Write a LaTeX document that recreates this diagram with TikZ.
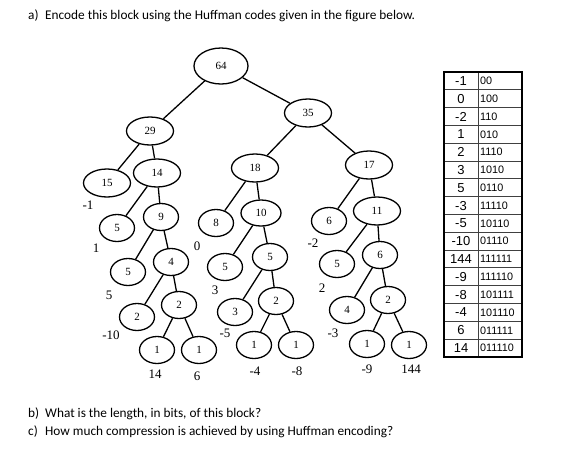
\documentclass[tikz,border=0pt]{standalone}
\usepackage{fontspec}
\setmainfont{Liberation Serif}
\newfontfamily\calib{Carlito}
\newfontfamily\arialf{Liberation Sans}
\usetikzlibrary{shapes.geometric}
\begin{document}
\begin{tikzpicture}[x=1pt,y=-1pt,
  tn/.style={ellipse,draw,line width=1.3pt,inner sep=0pt,minimum width=35pt,minimum height=27pt,font=\fontsize{11}{11}\selectfont},
  mid/.style={tn,minimum width=47pt,minimum height=28pt},
  lbl/.style={inner sep=0pt,font=\fontsize{13}{13}\selectfont},
  tedge/.style={line width=1.3pt},
  txt/.style={anchor=base west,inner sep=0pt,font=\calib\fontsize{13.3}{15}\selectfont},
  lc/.style={inner sep=0pt,font=\arialf\fontsize{13}{13}\selectfont},
  rc/.style={anchor=west,inner sep=0pt,font=\arialf\fontsize{10.8}{10.8}\selectfont}]
\useasboundingbox (0,0) rectangle (565,453);

% texts
\node[txt] (ta) at (28,19) {\makebox[17pt][l]{a)}Encode this block using the Huffman codes given in the figure below.};
\node[txt] (tb) at (28,417) {\makebox[17pt][l]{b)}What is the length, in bits, of this block?};
\node[txt] (tc) at (28,435) {\makebox[17pt][l]{c)}How much compression is achieved by using Huffman encoding?};

% tree nodes
\node[tn,minimum width=54pt,minimum height=36pt] (n64) at (221,66) {64};
\node[mid] (n29) at (150,131) {29};
\node[mid] (n35) at (308,113) {35};
\node[mid] (n15) at (107,183) {15};
\node[mid] (n14) at (157,173) {14};
\node[mid] (n18) at (255,168) {18};
\node[mid] (n17) at (369,165) {17};
\node[tn] (n5a) at (117,228) {5};
\node[tn] (n9) at (161,217) {9};
\node[tn] (n8) at (216,223) {8};
\node[mid,minimum width=40pt,minimum height=26pt] (n10) at (261,213) {10};
\node[tn] (n6a) at (329,221) {6};
\node[mid] (n11) at (377,211) {11};
\node[tn] (n5b) at (128,272) {5};
\node[tn] (n4a) at (171,262) {4};
\node[tn] (n5c) at (225,267) {5};
\node[tn] (n5d) at (270,257) {5};
\node[tn] (n5e) at (337,264) {5};
\node[tn] (n6b) at (380,255) {6};
\node[tn] (n2a) at (137,317) {2};
\node[tn] (n2b) at (179,305) {2};
\node[tn] (n3) at (235,312) {3};
\node[tn] (n2c) at (276,301) {2};
\node[tn] (n4b) at (347,310) {4};
\node[tn] (n2d) at (388,300) {2};
\node[tn] (n1a) at (157,350) {1};
\node[tn] (n1b) at (199,350) {1};
\node[tn] (n1c) at (254,345) {1};
\node[tn] (n1d) at (296,345) {1};
\node[tn] (n1e) at (367,344) {1};
\node[tn] (n1f) at (409,345) {1};

% edges
\draw[tedge] (n64) -- (n29);
\draw[tedge] (n64) -- (n35);
\draw[tedge] (n29) -- (n15);
\draw[tedge] (n29) -- (n14);
\draw[tedge] (n14) -- (n5a);
\draw[tedge] (n14) -- (n9);
\draw[tedge] (n9) -- (n5b);
\draw[tedge] (n9) -- (n4a);
\draw[tedge] (n4a) -- (n2a);
\draw[tedge] (n4a) -- (n2b);
\draw[tedge] (n2b) -- (n1a);
\draw[tedge] (n2b) -- (n1b);
\draw[tedge] (n35) -- (n18);
\draw[tedge] (n35) -- (n17);
\draw[tedge] (n18) -- (n8);
\draw[tedge] (n18) -- (n10);
\draw[tedge] (n10) -- (n5c);
\draw[tedge] (n10) -- (n5d);
\draw[tedge] (n5d) -- (n3);
\draw[tedge] (n5d) -- (n2c);
\draw[tedge] (n2c) -- (n1c);
\draw[tedge] (n2c) -- (n1d);
\draw[tedge] (n17) -- (n6a);
\draw[tedge] (n17) -- (n11);
\draw[tedge] (n11) -- (n5e);
\draw[tedge] (n11) -- (n6b);
\draw[tedge] (n6b) -- (n4b);
\draw[tedge] (n6b) -- (n2d);
\draw[tedge] (n2d) -- (n1e);
\draw[tedge] (n2d) -- (n1f);

% symbol labels
\node[lbl] (l1) at (88,205) {-1};
\node[lbl] (l2) at (96,248) {1};
\node[lbl] (l3) at (109,295) {5};
\node[lbl] (l4) at (111,335) {-10};
\node[lbl] (l5) at (155,374) {14};
\node[lbl] (l6) at (197,376) {6};
\node[lbl] (l7) at (197,246) {0};
\node[lbl] (l8) at (215,290) {3};
\node[lbl] (l9) at (225,333) {-5};
\node[lbl] (l10) at (255,371) {-4};
\node[lbl] (l11) at (297,371) {-8};
\node[lbl] (l12) at (313,243) {-2};
\node[lbl] (l13) at (322,288) {2};
\node[lbl] (l14) at (333,333) {-3};
\node[lbl] (l15) at (367,369) {-9};
\node[lbl] (l16) at (411,369) {144};

% table
\def\rh{17.8125}
\foreach \i in {1,...,15} {
  \draw[line width=0.9pt,black!75] (444,{72+\i*\rh}) -- (522,{72+\i*\rh});
}
\draw[line width=0.9pt,black!75] (478,72) -- (478,357);
\draw[line width=1.4pt] (444,72) rectangle (522,357);
\foreach \a/\b [count=\i] in {-1/00,0/100,-2/110,1/010,2/1110,3/1010,5/0110,-3/11110,-5/10110,-10/01110,144/111111,-9/111110,-8/101111,-4/101110,6/011111,14/011110} {
  \node[lc] (k\i) at (461,{72+(\i-0.5)*\rh}) {\a};
  \node[rc] (v\i) at (480,{72+(\i-0.5)*\rh}) {\b};
}
\end{tikzpicture}
\end{document}
